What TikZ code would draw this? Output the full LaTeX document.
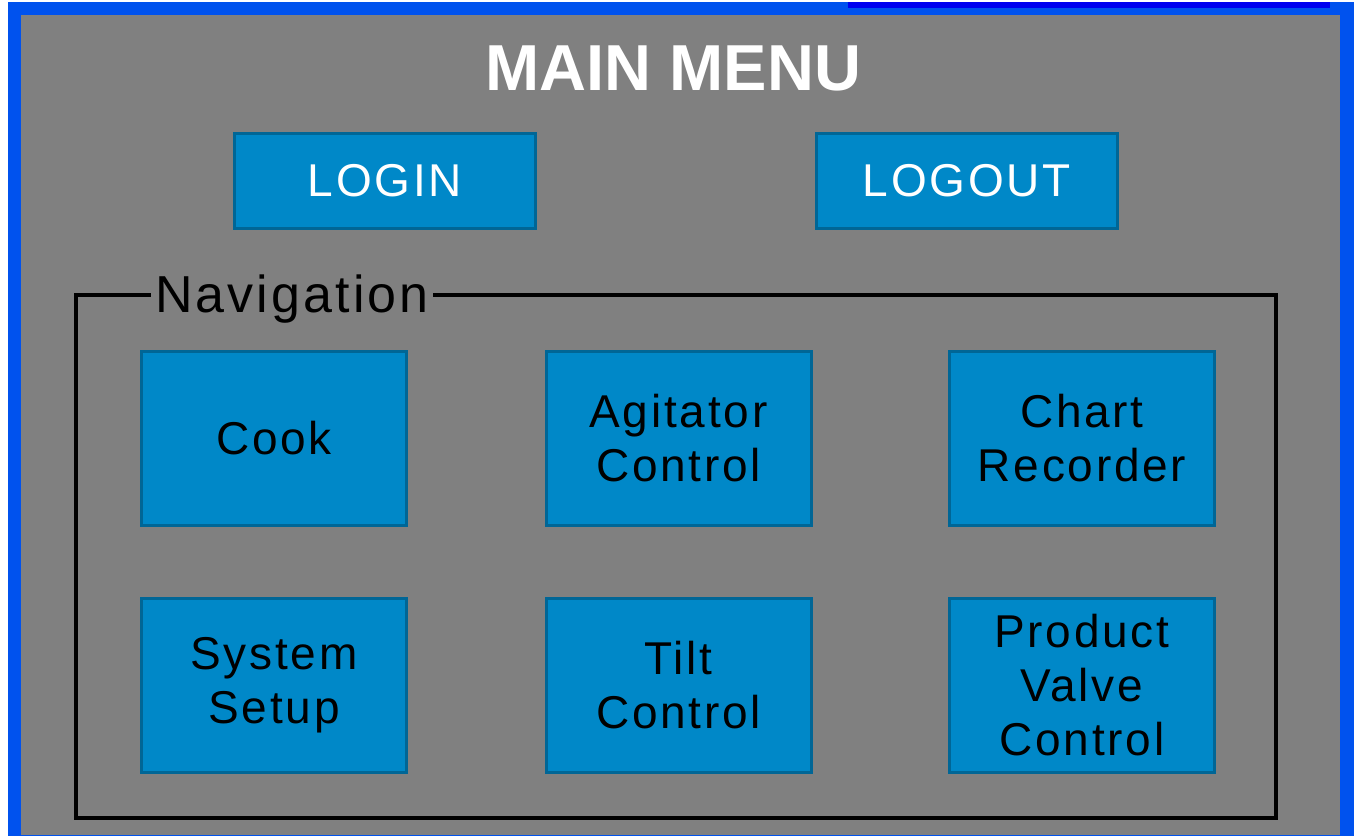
\documentclass[tikz,border=0pt]{standalone}
\usepackage{fontspec}
\setmainfont{Liberation Sans}
\newfontfamily\hmifont[LetterSpace=6]{Liberation Sans}

\definecolor{winblue}{RGB}{0,82,238}
\definecolor{bardark}{RGB}{0,0,240}
\definecolor{panel}{RGB}{128,128,128}
\definecolor{btnfill}{RGB}{0,136,200}
\definecolor{btnedge}{RGB}{0,102,150}

\def\btnw{265}
\def\btnh{174}

\begin{document}
\begin{tikzpicture}[x=1pt,y=-1pt,
    btn/.style={draw=btnedge,line width=3pt,fill=btnfill,
      minimum width=\btnw,minimum height=\btnh,inner sep=0pt,
      align=center,font=\hmifont\fontsize{46}{54}\selectfont},
    logbtn/.style={btn,minimum width=301,minimum height=95,text=white}]
  \useasboundingbox (0,0) rectangle (1354,836);

  % window frame and panel
  \fill[winblue] (8,2) rectangle (1354,836);
  \fill[bardark] (848,2) rectangle (1330,8);
  \fill[panel] (21,15) rectangle (1340,835);

  \node[anchor=base,text=white,font=\bfseries\fontsize{65}{65}\selectfont]
    (title) at (673.5,90) {MAIN MENU};

  \node[logbtn] (login) at (385,181) {LOGIN};
  \node[logbtn] (logout) at (967,181) {LOGOUT};

  % navigation group
  \draw[line width=4pt] (76,295) rectangle (1276,818);
  \node[anchor=base west,fill=panel,inner xsep=4pt,inner ysep=2pt,
    font=\hmifont\fontsize{52}{52}\selectfont] (navlabel) at (151,312) {Navigation};

  \node[btn] (cook) at (274,438.5) {Cook};
  \node[btn] (agitator) at (678.5,438.5) {Agitator\\Control};
  \node[btn] (chart) at (1082,438.5) {Chart\\Recorder};
  \node[btn] (setup) at (274,685) {System\\Setup};
  \node[btn] (tilt) at (678.5,685) {Tilt\\Control};
  \node[btn] (valve) at (1082,685) {Product\\Valve\\Control};
\end{tikzpicture}
\end{document}
